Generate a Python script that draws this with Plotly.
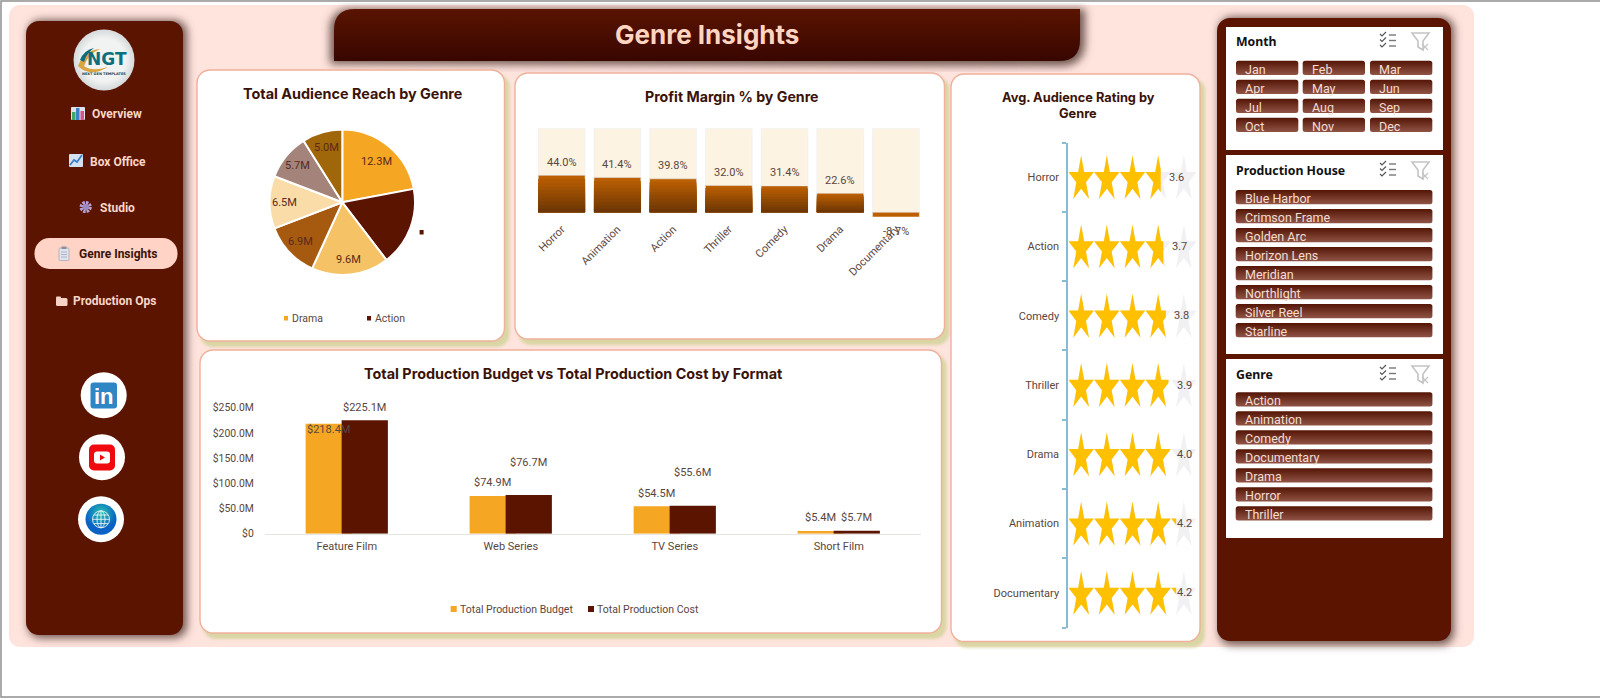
import base64
import math

import plotly.graph_objects as go

W, H = 1600, 699

# chart values
PIE_GENRES = ["Drama", "Action", "Comedy", "Thriller", "Horror", "Animation", "Documentary"]
PIE_VALUES = [12.3, 9.8, 9.6, 6.9, 6.5, 5.7, 5.0]
PIE_LABELS = ["12.3M", "", "9.6M", "6.9M", "6.5M", "5.7M", "5.0M"]
PIE_COLORS = ["#F5A623", "#5A1400", "#F6C266", "#A55A0F", "#F9DCA8", "#A3837A", "#A0660A"]

MARGIN_GENRES = ["Horror", "Animation", "Action", "Thriller", "Comedy", "Drama", "Documentary"]
MARGIN_VALUES = [44.0, 41.4, 39.8, 32.0, 31.4, 22.6, -8.7]
MARGIN_TRACK = [100, 100, 100, 100, 100, 100, 100]

RATING_GENRES = ["Horror", "Action", "Comedy", "Thriller", "Drama", "Animation", "Documentary"]
RATING_VALUES = [3.6, 3.7, 3.8, 3.9, 4.0, 4.2, 4.2]

FORMATS = ["Feature Film", "Web Series", "TV Series", "Short Film"]
BUDGET = [218.4, 74.9, 54.5, 5.4]
COST = [225.1, 76.7, 55.6, 5.7]
BUDGET_TICKS = [0, 50, 100, 150, 200, 250]
BUDGET_TICK_TEXT = ["$0", "$50.0M", "$100.0M", "$150.0M", "$200.0M", "$250.0M"]

MONTHS = ["Jan", "Feb", "Mar", "Apr", "May", "Jun", "Jul", "Aug", "Sep", "Oct", "Nov", "Dec"]
HOUSES = ["Blue Harbor", "Crimson Frame", "Golden Arc", "Horizon Lens", "Meridian", "Northlight", "Silver Reel", "Starline"]
SLICER_GENRES = ["Action", "Animation", "Comedy", "Documentary", "Drama", "Horror", "Thriller"]

MAROON = "#5A1400"
TEXT = "#5A4640"
TITLE = "#3A1208"
TITLE_FONT = "Inter"
LABEL_FONT = "Roboto"
SLICER_FONT = "Noto Sans"


def dom_x(left, right):
    return [left / W, right / W]


def dom_y(top, bottom):
    return [1 - bottom / H, 1 - top / H]


annotations = []


def label(x, y, text, size=11, color=TEXT, font=LABEL_FONT, anchor="center", bold=False):
    # left anchored annotations carry about 2px of padding
    x = x - 2 if anchor == "left" else x
    annotations.append(dict(
        xref="paper", yref="paper", x=x / W, y=1 - y / H, text=f"<b>{text}</b>" if bold else text,
        showarrow=False, xanchor=anchor, yanchor="middle", font=dict(size=size, color=color, family=font),
    ))


# ---- dashboard background, drawn as one svg below the plots ----
def rrect(x, y, w, h, r, fill, extra=""):
    return f'<rect x="{x}" y="{y}" width="{w}" height="{h}" rx="{r}" fill="{fill}" {extra}/>'


def card(x, y, w, h):
    return (
        rrect(x + 3, y + 4, w + 2, h + 2, 13, "#D9D6A4", 'filter="url(#soft)"')
        + rrect(x, y, w, h, 13, "#FFFFFF", 'stroke="#EFB09C" stroke-width="1.4"')
    )


def slicer_icons(y):
    check = "".join(
        f'<path d="M1380 {y - 7 + i * 5.5} l2 2 l4 -4" fill="none" stroke="#555" stroke-width="1.1"/>'
        f'<path d="M1389 {y - 6 + i * 5.5} h7" stroke="#777" stroke-width="1.4"/>'
        for i in range(3)
    )
    funnel = (
        f'<path d="M1412 {y - 8} h17 l-6 8 v9 l-5 -3 v-6 z" fill="#FFF" stroke="#C4C4C4" stroke-width="1.6"/>'
        f'<path d="M1422 {y + 3} l6 6 M1428 {y + 3} l-6 6" stroke="#C4C4C4" stroke-width="1.2"/>'
    )
    return check + funnel


svg = [
    '<defs>',
    '<filter id="soft" x="-10%" y="-10%" width="120%" height="120%"><feGaussianBlur stdDeviation="1.5"/></filter>',
    '<filter id="blur" x="-10%" y="-10%" width="120%" height="120%"><feGaussianBlur stdDeviation="4"/></filter>',
    '<linearGradient id="bar" x1="0" y1="0" x2="0" y2="1"><stop offset="0" stop-color="#5A1400"/><stop offset="1" stop-color="#380600"/></linearGradient>',
    '<linearGradient id="btn" x1="0" y1="0" x2="0" y2="1"><stop offset="0" stop-color="#541505"/><stop offset="1" stop-color="#905446"/></linearGradient>',
    '<radialGradient id="logo"><stop offset="0.7" stop-color="#F1F3F3"/><stop offset="1" stop-color="#D5D9DA"/></radialGradient>',
    '<radialGradient id="globe" cx="0.5" cy="0.3"><stop offset="0" stop-color="#27C2B0"/><stop offset="1" stop-color="#0A62C4"/></radialGradient>',
    '</defs>',
    f'<rect width="{W}" height="{H}" fill="#FFFFFF"/>',
    '<rect x="1" y="1" width="1600" height="696" fill="none" stroke="#8F8F8F" stroke-width="1.5"/>',
    rrect(9, 5, 1465, 642, 11, "#FFE3DD"),
    # left menu
    rrect(28, 20, 159, 618, 13, "#6E5650", 'filter="url(#blur)"'),
    rrect(26, 21, 157, 614, 13, MAROON),
    rrect(34.5, 238, 143, 31, 15, "#FFD3C6"),
    # title bar
    '<path d="M330 64 V30 Q330 9 352 9 H1085 V42 Q1085 66 1060 66 Z" fill="#6E5650" filter="url(#blur)"/>',
    '<path d="M334 61 V30 Q334 9 355 9 H1080 V40 Q1080 61 1059 61 Z" fill="url(#bar)"/>',
    # chart cards
    card(197, 70, 307.5, 271),
    card(515, 73, 429.5, 266),
    card(951, 74, 249, 567.5),
    card(200, 350, 741.5, 283),
    # right slicer panel
    rrect(1219, 17, 235, 628, 13, "#6E5650", 'filter="url(#blur)"'),
    rrect(1217, 18, 234, 623, 13, MAROON),
    rrect(1226, 27, 217, 123, 0, "#FFFFFF"),
    rrect(1226, 155, 217, 199, 0, "#FFFFFF"),
    rrect(1226, 359, 217, 179, 0, "#FFFFFF"),
    slicer_icons(41),
    slicer_icons(170),
    slicer_icons(374),
    # logo
    '<circle cx="104" cy="60" r="30.5" fill="url(#logo)"/>',
    '<path d="M78 66 Q84 50 100 49 Q88 54 84 66 Q92 72 108 67 Q90 78 78 66 Z" fill="#D9A441"/>',
    '<path d="M80 60 Q84 50 94 48 Q86 54 84 62 Z" fill="#0E6F7C"/>',
    # menu icons
    rrect(71, 107, 14, 13, 1, "#DDE3E6"),
    rrect(72, 112, 3.5, 8, 0, "#3FA66B"),
    rrect(76, 108, 3.5, 12, 0, "#3D7FC9"),
    rrect(80.5, 111, 3.5, 9, 0, "#D9578C"),
    rrect(69, 154, 14, 13, 1, "#D4E2F0"),
    '<path d="M70 165 L74 160 L77 162 L82 155" fill="none" stroke="#3D7FC9" stroke-width="1.8"/>',
    '<circle cx="85.7" cy="207" r="4.4" fill="none" stroke="#B9A3D6" stroke-width="3.4" stroke-dasharray="2.4 1"/>',
    '<circle cx="85.7" cy="207" r="3.2" fill="#9C88C2"/>',
    rrect(59, 248, 10, 12.5, 1, "#DCE3EE", 'stroke="#A9A2A8" stroke-width="0.7"'),
    rrect(61.5, 246.5, 5, 2.5, 0.5, "#8E8E9A"),
    '<path d="M61 252 h6 M61 254.5 h6 M61 257 h6" stroke="#A9A9B8" stroke-width="0.8"/>',
    rrect(56, 298, 11.5, 8, 1.5, "#F8D2C4"),
    rrect(56, 296.5, 5, 3, 1, "#F8D2C4"),
    # social buttons
    '<circle cx="103.7" cy="395.3" r="23" fill="#FFFFFF"/>',
    rrect(90.5, 382.5, 26.5, 26, 3, "#2F86C5"),
    '<circle cx="102" cy="457.3" r="23" fill="#FFFFFF"/>',
    rrect(89, 444.5, 26, 26, 5, "#F00A10"),
    rrect(94, 451.5, 16, 12, 3, "#FFFFFF"),
    '<path d="M100 454.5 L105 457.5 L100 460.5 Z" fill="#F00A10"/>',
    '<circle cx="101" cy="519.3" r="23" fill="#FFFFFF"/>',
    '<circle cx="101" cy="519.3" r="15.5" fill="url(#globe)"/>',
    '<g fill="none" stroke="#E6F5FA" stroke-width="0.9"><circle cx="101" cy="519.3" r="8.5"/>'
    '<ellipse cx="101" cy="519.3" rx="4" ry="8.5"/><path d="M92.5 519.3 h17 M94 515 h14 M94 523.6 h14 M101 510.8 v17"/></g>',
    # small stray key next to the pie
    rrect(419.6, 230, 4, 4.5, 0, MAROON),
    # pie legend keys
    rrect(284, 316, 4, 4.5, 0, PIE_COLORS[0]),
    rrect(367, 316, 4, 4.5, 0, PIE_COLORS[1]),
    # bar legend keys
    rrect(450.7, 606, 6, 6, 0, "#F5A623"),
    rrect(588, 606, 6, 6, 0, MAROON),
]

# slicer buttons
slicers = []
for i, month in enumerate(MONTHS):
    bx = [1236, 1302.7, 1370][i % 3]
    by = 60.7 + (i // 3) * 19
    svg.append(rrect(bx, by, 62.3, 14.3, 2.5, "url(#btn)"))
    slicers.append((bx + 9, by + 8.5, month))
for items, top in ((HOUSES, 190), (SLICER_GENRES, 392.3)):
    for i, item in enumerate(items):
        by = top + i * 19
        svg.append(rrect(1235.7, by, 196.7, 14.3, 2.5, "url(#btn)"))
        slicers.append((1245, by + 8.5, item))

svg_text = f'<svg xmlns="http://www.w3.org/2000/svg" width="{W}" height="{H}" viewBox="0 0 {W} {H}">' + "".join(svg) + "</svg>"
background = "data:image/svg+xml;base64," + base64.b64encode(svg_text.encode()).decode()

fig = go.Figure()

# ---- pie ----
PIE_CX, PIE_CY, PIE_R = 342.3, 202.3, 72.7
fig.add_trace(go.Pie(
    labels=PIE_GENRES, values=PIE_VALUES, textinfo="none", sort=False, direction="clockwise",
    rotation=0, marker=dict(colors=PIE_COLORS, line=dict(color="#FFFFFF", width=2)),
    domain=dict(x=dom_x(PIE_CX - PIE_R, PIE_CX + PIE_R), y=dom_y(PIE_CY - PIE_R, PIE_CY + PIE_R)),
    showlegend=False, hoverinfo="label+value",
))
# Excel keeps these labels close to the rim, plotly centres them, so place them by slice angle
start = 0
for value, text in zip(PIE_VALUES, PIE_LABELS):
    mid = math.radians((start + value / 2) / sum(PIE_VALUES) * 360)
    start += value
    reach = 0.73 if value > 10 else 0.79
    if text:
        label(PIE_CX + reach * PIE_R * math.sin(mid), PIE_CY - reach * PIE_R * math.cos(mid), text, size=11, color="#5A2A1A")
label(292.3, 318, PIE_GENRES[0], size=10.5, anchor="left")
label(375.3, 318, PIE_GENRES[1], size=10.5, anchor="left")

# ---- profit margin ----
fig.add_trace(go.Bar(x=MARGIN_GENRES, y=MARGIN_TRACK, marker_color="#FDF3E3", xaxis="x", yaxis="y", showlegend=False, hoverinfo="skip"))
fig.add_trace(go.Bar(x=MARGIN_GENRES, y=MARGIN_VALUES, marker_color="#BB5F02", xaxis="x", yaxis="y", showlegend=False))
# nested, darker bars towards the base give the bars their gradient
SHADE_STEPS = 10
for k in range(SHADE_STEPS - 1, 0, -1):
    mix = 1 - k / SHADE_STEPS
    shade = f"rgb({187 - mix * 85:.0f},{95 - mix * 45:.0f},{2 + mix * 2:.0f})"
    fig.add_trace(go.Bar(
        x=MARGIN_GENRES, y=[max(v, 0) * k / SHADE_STEPS for v in MARGIN_VALUES],
        marker=dict(color=shade, line=dict(width=0)), xaxis="x", yaxis="y", showlegend=False, hoverinfo="skip",
    ))
for genre, value in zip(MARGIN_GENRES, MARGIN_VALUES):
    annotations.append(dict(
        xref="x", yref="y", x=genre, y=max(value, 0), yshift=13 if value > 0 else -19.5, showarrow=False,
        text=f"{value:.1f}%", font=dict(size=11, color=TEXT, family=LABEL_FONT),
    ))


# ---- star ratings ----
def star_points(cell, row):
    pts = []
    for i in range(10):
        angle = math.radians(-90 + 36 * i)
        r = 1 if i % 2 == 0 else 0.382
        pts.append((
            cell + 0.5 + r * math.cos(angle) / 0.951 * 0.495,
            row + (r * math.sin(angle) + 0.095) / 0.905 * 0.317,
        ))
    return pts


def clip_right(pts, limit):
    out = []
    for (x1, y1), (x2, y2) in zip(pts, pts[1:] + pts[:1]):
        if x1 <= limit:
            out.append((x1, y1))
        if (x1 <= limit) != (x2 <= limit):
            out.append((limit, y1 + (y2 - y1) * (limit - x1) / (x2 - x1)))
    return out


def stars_xy(values):
    xs, ys = [], []
    for row, value in enumerate(values):
        for cell in range(5):
            pts = clip_right(star_points(cell, row), value)
            if pts:
                xs += [p[0] for p in pts] + [pts[0][0], None]
                ys += [p[1] for p in pts] + [pts[0][1], None]
    return xs, ys


gray_x, gray_y = stars_xy([5] * len(RATING_VALUES))
gold_x, gold_y = stars_xy(RATING_VALUES)
fig.add_trace(go.Scatter(x=gray_x, y=gray_y, mode="lines", fill="toself", fillcolor="#F1F1F3", line=dict(width=0), xaxis="x2", yaxis="y2", showlegend=False, hoverinfo="skip"))
fig.add_trace(go.Scatter(x=gold_x, y=gold_y, mode="lines", fill="toself", fillcolor="#FFC000", line=dict(width=0), xaxis="x2", yaxis="y2", showlegend=False, hoverinfo="skip"))
for row, value in enumerate(RATING_VALUES):
    annotations.append(dict(
        xref="x2", yref="y2", x=min(value, 3.9), y=row, xshift=16, showarrow=False,
        text=f"{value:.1f}", font=dict(size=11, color=TEXT, family=LABEL_FONT),
    ))

# ---- budget vs cost ----
BAR_W = 0.282
fig.add_trace(go.Bar(x=FORMATS, y=BUDGET, width=BAR_W, offset=-0.251, marker=dict(color="#F5A623", line=dict(width=0)), xaxis="x3", yaxis="y3", showlegend=False))
fig.add_trace(go.Bar(x=FORMATS, y=COST, width=BAR_W, offset=-0.0315, marker=dict(color=MAROON, line=dict(width=0)), xaxis="x3", yaxis="y3", showlegend=False))
BUDGET_SHIFT = [-5.4, 13, 13, 13]
COST_SHIFT = [13, 33, 33, 13]
for i in range(len(FORMATS)):
    annotations.append(dict(xref="x3", yref="y3", x=i, y=BUDGET[i], xshift=-18, yshift=BUDGET_SHIFT[i], showarrow=False,
                            text=f"${BUDGET[i]:.1f}M", font=dict(size=11, color=TEXT, family=LABEL_FONT)))
    annotations.append(dict(xref="x3", yref="y3", x=i, y=COST[i], xshift=18, yshift=COST_SHIFT[i], showarrow=False,
                            text=f"${COST[i]:.1f}M", font=dict(size=11, color=TEXT, family=LABEL_FONT)))
label(460, 609, "Total Production Budget", size=10.5, anchor="left")
label(597, 609, "Total Production Cost", size=10.5, anchor="left")

# ---- titles and menu ----
label(706.7, 35, "Genre Insights", size=26, color="#FFD5C2", font=TITLE_FONT, bold=True)
label(352.7, 94, "Total Audience Reach by Genre", size=14.4, color=TITLE, font=TITLE_FONT, bold=True)
label(731.7, 96, "Profit Margin % by Genre", size=14.2, color=TITLE, font=TITLE_FONT, bold=True)
label(1078, 97, "Avg. Audience Rating by", size=12.8, color=TITLE, font=TITLE_FONT, bold=True)
label(1078, 113, "Genre", size=12.8, color=TITLE, font=TITLE_FONT, bold=True)
label(573, 373, "Total Production Budget vs Total Production Cost by Format", size=14.4, color=TITLE, font=TITLE_FONT, bold=True)

label(92, 114, "Overview", size=12, color="#F9D6C8", anchor="left", bold=True)
label(90.3, 161.5, "Box Office", size=12, color="#F9D6C8", anchor="left", bold=True)
label(99.7, 208, "Studio", size=12, color="#F9D6C8", anchor="left", bold=True)
label(78.7, 254, "Genre Insights", size=12, color="#3A1208", anchor="left", bold=True)
label(73.3, 301, "Production Ops", size=12, color="#F9D6C8", anchor="left", bold=True)
label(107, 59, "NGT", size=17, color="#0E6F7C", font="DejaVu Sans", bold=True)
label(104, 74, "NEXT GEN TEMPLATES", size=3.5, color="#2A3A40", font="DejaVu Sans", bold=True)
label(103.7, 396, "in", size=22, color="#FFFFFF", font="Liberation Sans", bold=True)

# ---- slicers ----
label(1236, 41.7, "Month", size=12.3, color="#111111", font=SLICER_FONT, anchor="left", bold=True)
label(1236, 170, "Production House", size=12.3, color="#111111", font=SLICER_FONT, anchor="left", bold=True)
label(1236, 374, "Genre", size=12.3, color="#111111", font=SLICER_FONT, anchor="left", bold=True)
for sx, sy, item in slicers:
    label(sx, sy, item, size=12.5, color="#F6DDD2", font=LABEL_FONT, anchor="left")

axis_font = dict(size=11, color=TEXT, family=LABEL_FONT)
fig.update_layout(
    width=W, height=H, margin=dict(l=0, r=0, t=0, b=0, autoexpand=False),
    paper_bgcolor="#FFFFFF", plot_bgcolor="rgba(0,0,0,0)",
    barmode="overlay", bargap=0.16, showlegend=False,
    annotations=annotations,
    images=[dict(source=background, xref="paper", yref="paper", x=0, y=1, sizex=1, sizey=1,
                 xanchor="left", yanchor="top", sizing="stretch", layer="below")],
    xaxis=dict(domain=dom_x(533.8, 923.8), tickangle=-45, tickfont=axis_font, showgrid=False, zeroline=False,
               showline=False, ticks="", categoryorder="array", categoryarray=MARGIN_GENRES, ticklabelstandoff=3),
    yaxis=dict(domain=dom_y(128.3, 216.7), range=[-5.24, 100], visible=False),
    xaxis2=dict(domain=dom_x(1068.3, 1196.7), range=[0, 5], visible=False),
    yaxis2=dict(domain=dom_y(142.5, 627.5), range=[6.5, -0.5], anchor="x2", tickmode="array",
                tickvals=list(range(len(RATING_GENRES))), ticktext=RATING_GENRES, tickfont=axis_font,
                showgrid=False, zeroline=False, showline=True, linecolor="#86BDD2", linewidth=2, ticks="",
                minor=dict(tickmode="array", tickvals=[r - 0.5 for r in range(len(RATING_GENRES) + 1)],
                           ticks="outside", ticklen=4, tickcolor="#86BDD2", tickwidth=1.5, showgrid=False),
                ticklabelstandoff=5),
    xaxis3=dict(domain=dom_x(264.8, 920.8), tickfont=axis_font, showgrid=False, zeroline=False, showline=True,
                linecolor="#E8E4E2", linewidth=1, ticks="", anchor="y3", ticklabelstandoff=2,
                categoryorder="array", categoryarray=FORMATS),
    yaxis3=dict(domain=dom_y(407.7, 533.7), range=[0, 250], anchor="x3", tickmode="array", tickvals=BUDGET_TICKS,
                ticktext=BUDGET_TICK_TEXT, tickfont=dict(size=10.4, color=TEXT, family=LABEL_FONT), showgrid=False,
                zeroline=False, showline=False, ticks="", ticklabelstandoff=10),
)

# the page's default body margin would push everything 8px down and right
fig.write_html(
    "out.html",
    config=dict(displayModeBar=False),
    post_script="document.body.style.margin='0';document.documentElement.style.overflow='hidden';",
)
